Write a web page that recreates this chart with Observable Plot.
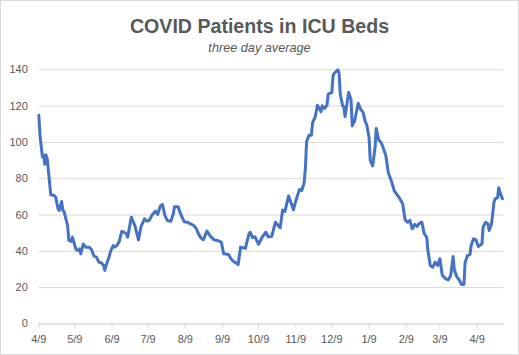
<!DOCTYPE html>
<html>
<head>
<meta charset="utf-8">
<script src="https://cdn.jsdelivr.net/npm/d3@7"></script>
<script src="https://cdn.jsdelivr.net/npm/@observablehq/plot@0.6"></script>
<style>
  html, body { margin: 0; padding: 0; background: #fff; }
  #wrap { position: relative; width: 519px; height: 355px; background: #fff; overflow: hidden; }
  #frame { position: absolute; left: 0; top: 0; width: 519px; height: 355px; box-sizing: border-box; border: 1px solid #D9D9D9; pointer-events: none; }
  #title { position: absolute; left: 0; width: 519px; top: 16.7px; text-align: center; font-family: "Liberation Sans", Arial, sans-serif; font-weight: bold; font-size: 19.6px; line-height: 19.6px; color: #595959; white-space: nowrap; }
  #subtitle { position: absolute; left: 0; width: 519px; top: 41.5px; text-align: center; font-family: "Liberation Sans", Arial, sans-serif; font-style: italic; font-size: 12.7px; line-height: 12.7px; color: #595959; white-space: nowrap; }
  #chart { position: absolute; left: 0; top: 60px; }
</style>
</head>
<body>
<div id="wrap">
  <div id="title">COVID Patients in ICU Beds</div>
  <div id="subtitle">three day average</div>
  <div id="chart"></div>
  <div id="frame"></div>
</div>
<script>
// Days since 2020-04-09 and three-day-average ICU patients
const dayOffsets = [0,1,3,4,5,6,7,10,12,14,16,17,19,20,21,24,25,27,28,31,33,34,35,37,39,42,44,46,48,50,52,54,55,56,58,60,62,63,65,67,69,71,73,74,77,80,83,85,88,90,92,94,97,99,101,103,105,107,110,112,113,116,118,121,124,126,129,131,133,135,137,140,143,146,149,152,154,158,160,162,166,168,172,175,176,178,180,183,186,189,191,194,197,201,203,205,208,212,214,217,219,221,222,223,225,227,228,230,231,232,235,236,238,240,241,244,245,246,249,250,251,253,254,255,258,260,261,263,266,268,270,272,273,275,276,278,280,281,283,285,286,289,291,294,296,298,300,303,305,307,309,311,313,315,317,319,321,323,324,326,328,330,332,334,336,339,341,343,345,346,348,350,352,354,355,357,359,360,362,364,366,369,370,372,374,375,377,379,380,382,383,384,386];
const icuPatients = [115,104,92,93,88,93,91,71,71,70,63.4,62.5,67.4,62.5,62,54,46,45.4,47.8,41,40.4,41.4,38.6,44,42.3,42.3,40.8,37.3,36.8,34,33.7,32.2,29.5,32.2,35.9,40.4,43.2,42.3,43.2,45.4,50.9,50.5,49.6,47.8,58.8,54.2,46.3,53.3,57.9,56.6,57,59.7,62.1,60.3,64.7,65.8,59.7,57,56.6,60.7,64.5,64.5,60.7,56.3,56,55.2,54.2,52.7,49.6,47.4,46.3,51.1,48.2,46.3,45.9,45,38.6,38.2,35.9,34.5,32.7,42.3,41.6,49.6,50.5,47.6,48,43.9,47.8,50.5,48,48.2,56,52.9,62.7,62,70.5,62.9,67.8,74,73.5,78,86,100.5,104,104,111,113.7,116.9,120.5,116.9,120.2,118.7,120.5,126.6,127.5,136.7,138.1,140,138.5,126.6,120.2,119.7,114.3,127.5,123.5,109.1,111.9,121.6,118.3,116.5,111,110,102.7,89.9,87.1,97.2,107.7,101.4,99.9,98.5,92.6,83.4,77.9,73.3,71.5,69.6,66.2,57.4,56,57,52.4,54.8,53.7,55.5,56,49.6,47.8,40.4,32.2,31.2,34,32.2,35.9,26.7,24.8,24.3,26.7,37.1,29.8,26.1,24.3,21.7,21.7,34,37.7,38.2,43.2,46.9,46.3,42.6,44.1,53.3,56,55.2,51.5,55.2,67,68.9,69.5,75,72.6,68.9];
const yTicks = [0,20,40,60,80,100,120,140];
const xTickDates = ["2020-04-09","2020-05-09","2020-06-09","2020-07-09","2020-08-09","2020-09-09","2020-10-09","2020-11-09","2020-12-09","2021-01-09","2021-02-09","2021-03-09","2021-04-09"];
const xTickLabels = ["4/9","5/9","6/9","7/9","8/9","9/9","10/9","11/9","12/9","1/9","2/9","3/9","4/9"];

const DAY = 864e5;
const start = Date.UTC(2020, 3, 9);
const data = dayOffsets.map((d, i) => ({date: new Date(start + d * DAY), value: icuPatients[i]}));
const tickDates = xTickDates.map(s => new Date(s + "T00:00:00Z"));
const labelMap = new Map(tickDates.map((d, i) => [+d, xTickLabels[i]]));

const chart = Plot.plot({
  width: 519,
  height: 295,
  marginTop: 9.3,
  marginBottom: 31.6,
  marginLeft: 38.3,
  marginRight: 15.7,
  style: {fontFamily: "'Liberation Sans', Arial, sans-serif", fontSize: "11px", color: "#595959", background: "transparent"},
  x: {type: "utc", domain: [new Date(start), new Date(start + 387.2 * DAY)], label: null},
  y: {domain: [0, 140], label: null},
  marks: [
    Plot.gridY(yTicks, {stroke: "#D9D9D9", strokeOpacity: 1}),
    Plot.ruleY([0], {stroke: "#D9D9D9"}),
    Plot.axisY(yTicks, {tickSize: 0, tickPadding: 11, fill: "#595959", label: null}),
    Plot.axisX(tickDates, {tickSize: 5, tickPadding: 6.5, stroke: "#D9D9D9", fill: "#595959", label: null, tickFormat: d => labelMap.get(+d)}),
    Plot.line(data, {x: "date", y: "value", stroke: "#4472C4", strokeWidth: 3, strokeLinejoin: "round", strokeLinecap: "round"})
  ]
});
document.getElementById("chart").appendChild(chart);
</script>
</body>
</html>
